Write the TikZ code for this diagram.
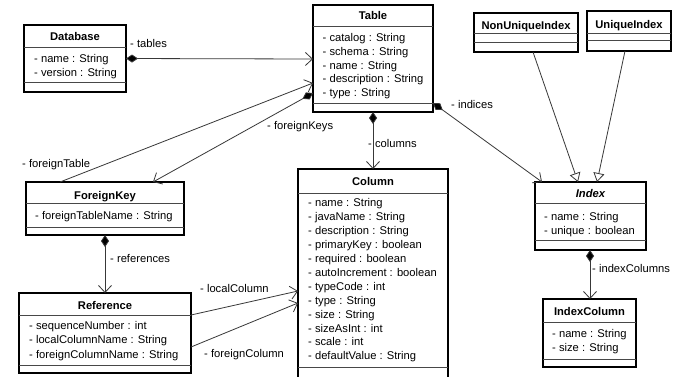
\documentclass[tikz,border=0pt]{standalone}
\usepackage{fontspec}
\setmainfont{Liberation Sans}
\usetikzlibrary{arrows.meta}
\begin{document}
\begin{tikzpicture}[x=1pt,y=-1pt,
  classbox/.style={draw=black, line width=1.6pt, fill=white, inner sep=0pt, outer sep=0pt, anchor=north west},
  divider/.style={draw=black!72, line width=0.8pt},
  ctitle/.style={font=\fontsize{11.2}{14}\selectfont\bfseries, inner sep=0pt, anchor=base},
  % multi-line attribute lists are placed by the baseline of their last line
  cattrs/.style={font=\fontsize{11.2}{13.9}\selectfont, inner sep=0pt, anchor=base west, align=left},
  rolelabel/.style={font=\fontsize{11.2}{14}\selectfont, inner sep=0pt, anchor=base west},
  link/.style={draw=black!78, line width=0.8pt},
  compose/.style={link, {Diamond[length=12pt,width=8pt,fill=black]}-{Straight Barb[length=7pt,width=13pt]}},
  inherit/.style={link, -{Triangle[open,length=9pt,width=11pt,fill=white]}},
  assoc/.style={link, -{Straight Barb[length=7pt,width=13pt]}}
]
\clip (0,0) rectangle (685,376);
\fill[white] (0,0) rectangle (685,376);

% ---- Database
\node[classbox, minimum width=102pt, minimum height=67pt] (db) at (24,25) {};
\draw[divider] (24,47) -- (126,47);
\draw[divider] (24,82) -- (126,82);
\node[ctitle] (dbt) at (75,40.7) {Database};
\node[cattrs] (dba) at (34,76.6) {- name : String\\- version : String};

% ---- Table
\node[classbox, minimum width=120pt, minimum height=107pt] (tbl) at (313,5) {};
\draw[divider] (313,26) -- (433,26);
\draw[divider] (313,103) -- (433,103);
\node[ctitle] (tblt) at (373,19.5) {Table};
\node[cattrs] (tbla) at (322.5,96.8) {- catalog : String\\- schema : String\\- name : String\\- description : String\\- type : String};

% ---- NonUniqueIndex
\node[classbox, minimum width=104pt, minimum height=39pt] (nui) at (474,13) {};
\draw[divider] (474,33) -- (578,33);
\draw[divider] (474,42) -- (578,42);
\node[ctitle] (nuit) at (526,29.5) {NonUniqueIndex};

% ---- UniqueIndex
\node[classbox, minimum width=84pt, minimum height=40pt] (ui) at (587,11) {};
\draw[divider] (587,33) -- (671,33);
\draw[divider] (587,40) -- (671,40);
\node[ctitle] (uit) at (629,28) {UniqueIndex};

% ---- ForeignKey
\node[classbox, minimum width=158pt, minimum height=53pt] (fk) at (26,182) {};
\draw[divider] (26,203) -- (184,203);
\draw[divider] (26,227) -- (184,227);
\node[ctitle] (fkt) at (105,199) {ForeignKey};
\node[cattrs] (fka) at (35,219.7) {- foreignTableName : String};

% ---- Reference
\node[classbox, minimum width=172pt, minimum height=80pt] (ref) at (19,293) {};
\draw[divider] (19,315) -- (191,315);
\draw[divider] (19,365) -- (191,365);
\node[ctitle] (reft) at (105,309) {Reference};
\node[cattrs, font=\fontsize{11.2}{14.5}\selectfont] (refa) at (29,358) {- sequenceNumber : int\\- localColumnName : String\\- foreignColumnName : String};

% ---- Column (runs past the lower edge)
\node[classbox, minimum width=150pt, minimum height=215pt] (col) at (298,169) {};
\draw[divider] (298,193) -- (448,193);
\draw[divider] (298,367.5) -- (448,367.5);
\node[ctitle] (colt) at (373,185.7) {Column};
\node[cattrs] (cola) at (308,359.8) {- name : String\\- javaName : String\\- description : String\\- primaryKey : boolean\\- required : boolean\\- autoIncrement : boolean\\- typeCode : int\\- type : String\\- size : String\\- sizeAsInt : int\\- scale : int\\- defaultValue : String};

% ---- Index (abstract)
\node[classbox, minimum width=111pt, minimum height=68pt] (idx) at (535,182) {};
\draw[divider] (535,203) -- (646,203);
\draw[divider] (535,240) -- (646,240);
\node[ctitle, font=\fontsize{11.2}{14}\selectfont\bfseries\itshape] (idxt) at (590.5,197.3) {Index};
\node[cattrs] (idxa) at (544,234) {- name : String\\- unique : boolean};

% ---- IndexColumn
\node[classbox, minimum width=93pt, minimum height=68pt] (icol) at (543,299) {};
\draw[divider] (543,322) -- (636,322);
\draw[divider] (543,359) -- (636,359);
\node[ctitle] (icolt) at (589.5,315.7) {IndexColumn};
\node[cattrs] (icola) at (552,351) {- name : String\\- size : String};

% ---- connectors
\draw[compose] (db.east) -- (tbl.west |- 0,59);
\draw[compose] (tbl.west |- 0,93) -- (fk.north -| 153,0);
\draw[assoc] (fk.north -| 60,0) -- (tbl.west |- 0,83);
\draw[compose] (tbl.south) -- (col.north);
\draw[compose] (tbl.east |- 0,103) -- (idx.north -| 542,0);
\draw[inherit] (nui.south -| 533,0) -- (idx.north -| 578,0);
\draw[inherit] (ui.south -| 625,0) -- (idx.north -| 597,0);
\draw[compose] (fk.south) -- (ref.north);
\draw[assoc] (ref.east |- 0,315) -- (col.west |- 0,291);
\draw[assoc] (ref.east |- 0,347) -- (col.west |- 0,303);
\draw[compose] (idx.south -| 590,0) -- (icol.north -| 590,0);

% ---- role names
\node[rolelabel] (lt) at (130,47.5) {- tables};
\node[rolelabel] (lfk) at (267,129) {- foreignKeys};
\node[rolelabel] (lft) at (22,167.5) {- foreignTable};
\node[rolelabel] (lc) at (368,147) {- columns};
\node[rolelabel] (li) at (451,108) {- indices};
\node[rolelabel] (lr) at (110,262) {- references};
\node[rolelabel] (llc) at (200,292) {- localColumn};
\node[rolelabel] (lfc) at (204,357) {- foreignColumn};
\node[rolelabel] (lic) at (592,272) {- indexColumns};
\end{tikzpicture}
\end{document}
